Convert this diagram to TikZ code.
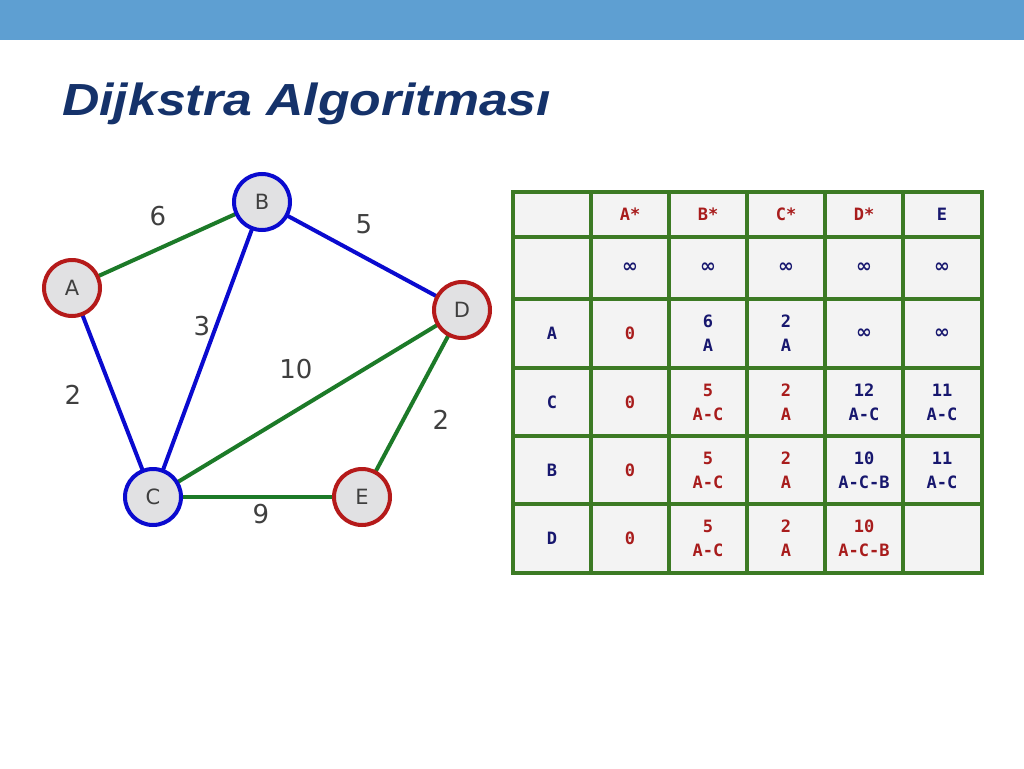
\documentclass[tikz,border=0pt]{standalone}
\usepackage{fontspec}
\setmainfont{DejaVu Sans}
\newfontfamily\titlefont[FakeStretch=1.15]{Liberation Sans}
\newfontfamily\monofont{DejaVu Sans Mono}
\newfontfamily\inffont{DejaVu Sans}
\newcommand{\infsym}{{\inffont\bfseries\fontsize{19}{24}\selectfont ∞}}
\definecolor{barblue}{HTML}{5E9FD2}
\definecolor{titleblue}{HTML}{15326A}
\definecolor{nodered}{HTML}{B51A1A}
\definecolor{nodeblue}{HTML}{0A0ACF}
\definecolor{edgegreen}{HTML}{1C7A28}
\definecolor{gridgreen}{HTML}{3C7A24}
\definecolor{txtred}{HTML}{A81C1C}
\definecolor{txtblue}{HTML}{17176E}
\definecolor{lblgray}{HTML}{3F3F3F}
\definecolor{cellfill}{HTML}{F3F3F3}
\definecolor{nodefill}{HTML}{E1E1E3}
\tikzset{
  vtx/.style={circle, draw, line width=4pt, fill=nodefill, minimum size=56pt, inner sep=0pt, font=\fontsize{21}{25}\selectfont, text=lblgray},
  rv/.style={vtx, draw=nodered},
  bv/.style={vtx, draw=nodeblue},
  ge/.style={line width=4pt, edgegreen},
  be/.style={line width=4pt, nodeblue},
  wlbl/.style={font=\fontsize{26}{30}\selectfont, text=lblgray, inner sep=0pt},
  cell/.style={font=\monofont\bfseries\fontsize{17}{24}\selectfont, align=center, inner sep=0pt},
  cr/.style={cell, text=txtred},
  cb/.style={cell, text=txtblue},
}
\begin{document}
\begin{tikzpicture}[x=1pt,y=-1pt]
\useasboundingbox (0,0) rectangle (1024,768);
\fill[white] (0,0) rectangle (1024,768);
\fill[barblue] (0,0) rectangle (1024,40);
\node[anchor=base west, inner sep=0pt, text=titleblue, font=\titlefont\bfseries\itshape\fontsize{45}{50}\selectfont] (title) at (62,115) {Dijkstra Algoritması};

% graph: edges first, then nodes on top
\coordinate (pA) at (72,288);
\coordinate (pB) at (262,202);
\coordinate (pD) at (462,310);
\coordinate (pC) at (153,497);
\coordinate (pE) at (362,497);
\draw[ge] (pA) -- (pB);
\draw[be] (pB) -- (pD);
\draw[be] (pB) -- (pC);
\draw[be] (pA) -- (pC);
\draw[ge] (pC) -- (pD);
\draw[ge] (pD) -- (pE);
\draw[ge] (pC) -- (pE);
\node[rv] (A) at (pA) {A};
\node[bv] (B) at (pB) {B};
\node[rv] (D) at (pD) {D};
\node[bv] (C) at (pC) {C};
\node[rv] (E) at (pE) {E};

\node[wlbl] (w6) at (158,216) {6};
\node[wlbl] (w5) at (364,224) {5};
\node[wlbl] (w3) at (202,326) {3};
\node[wlbl] (w10) at (296,369) {10};
\node[wlbl] (w2a) at (73,395) {2};
\node[wlbl] (w2b) at (441,420) {2};
\node[wlbl] (w9) at (261,514) {9};

% table
\fill[cellfill] (513,192) rectangle (982,573);
\foreach \x in {513,591,669,747,825,903,982}
  \draw[gridgreen, line width=4pt] (\x,190) -- (\x,575);
\foreach \y in {192,237,299,368,436,504,573}
  \draw[gridgreen, line width=4pt] (511,\y) -- (984,\y);

% row 0
\node[cr] (h1) at (630,214.5) {A*};
\node[cr] (h2) at (708,214.5) {B*};
\node[cr] (h3) at (786,214.5) {C*};
\node[cr] (h4) at (864,214.5) {D*};
\node[cb] (h5) at (942,214.5) {E};
% row 1
\node[cb] (r1a) at (630,268) {\infsym};
\node[cb] (r1b) at (708,268) {\infsym};
\node[cb] (r1c) at (786,268) {\infsym};
\node[cb] (r1d) at (864,268) {\infsym};
\node[cb] (r1e) at (942,268) {\infsym};
% row 2
\node[cb] (r2l) at (552,333.5) {A};
\node[cr] (r2a) at (630,333.5) {0};
\node[cb] (r2b) at (708,333.5) {6\\A};
\node[cb] (r2c) at (786,333.5) {2\\A};
\node[cb] (r2d) at (864,333.5) {\infsym};
\node[cb] (r2e) at (942,333.5) {\infsym};
% row 3
\node[cb] (r3l) at (552,402) {C};
\node[cr] (r3a) at (630,402) {0};
\node[cr] (r3b) at (708,402) {5\\A-C};
\node[cr] (r3c) at (786,402) {2\\A};
\node[cb] (r3d) at (864,402) {12\\A-C};
\node[cb] (r3e) at (942,402) {11\\A-C};
% row 4
\node[cb] (r4l) at (552,470) {B};
\node[cr] (r4a) at (630,470) {0};
\node[cr] (r4b) at (708,470) {5\\A-C};
\node[cr] (r4c) at (786,470) {2\\A};
\node[cb] (r4d) at (864,470) {10\\A-C-B};
\node[cb] (r4e) at (942,470) {11\\A-C};
% row 5
\node[cb] (r5l) at (552,538.5) {D};
\node[cr] (r5a) at (630,538.5) {0};
\node[cr] (r5b) at (708,538.5) {5\\A-C};
\node[cr] (r5c) at (786,538.5) {2\\A};
\node[cr] (r5d) at (864,538.5) {10\\A-C-B};
\end{tikzpicture}
\end{document}
